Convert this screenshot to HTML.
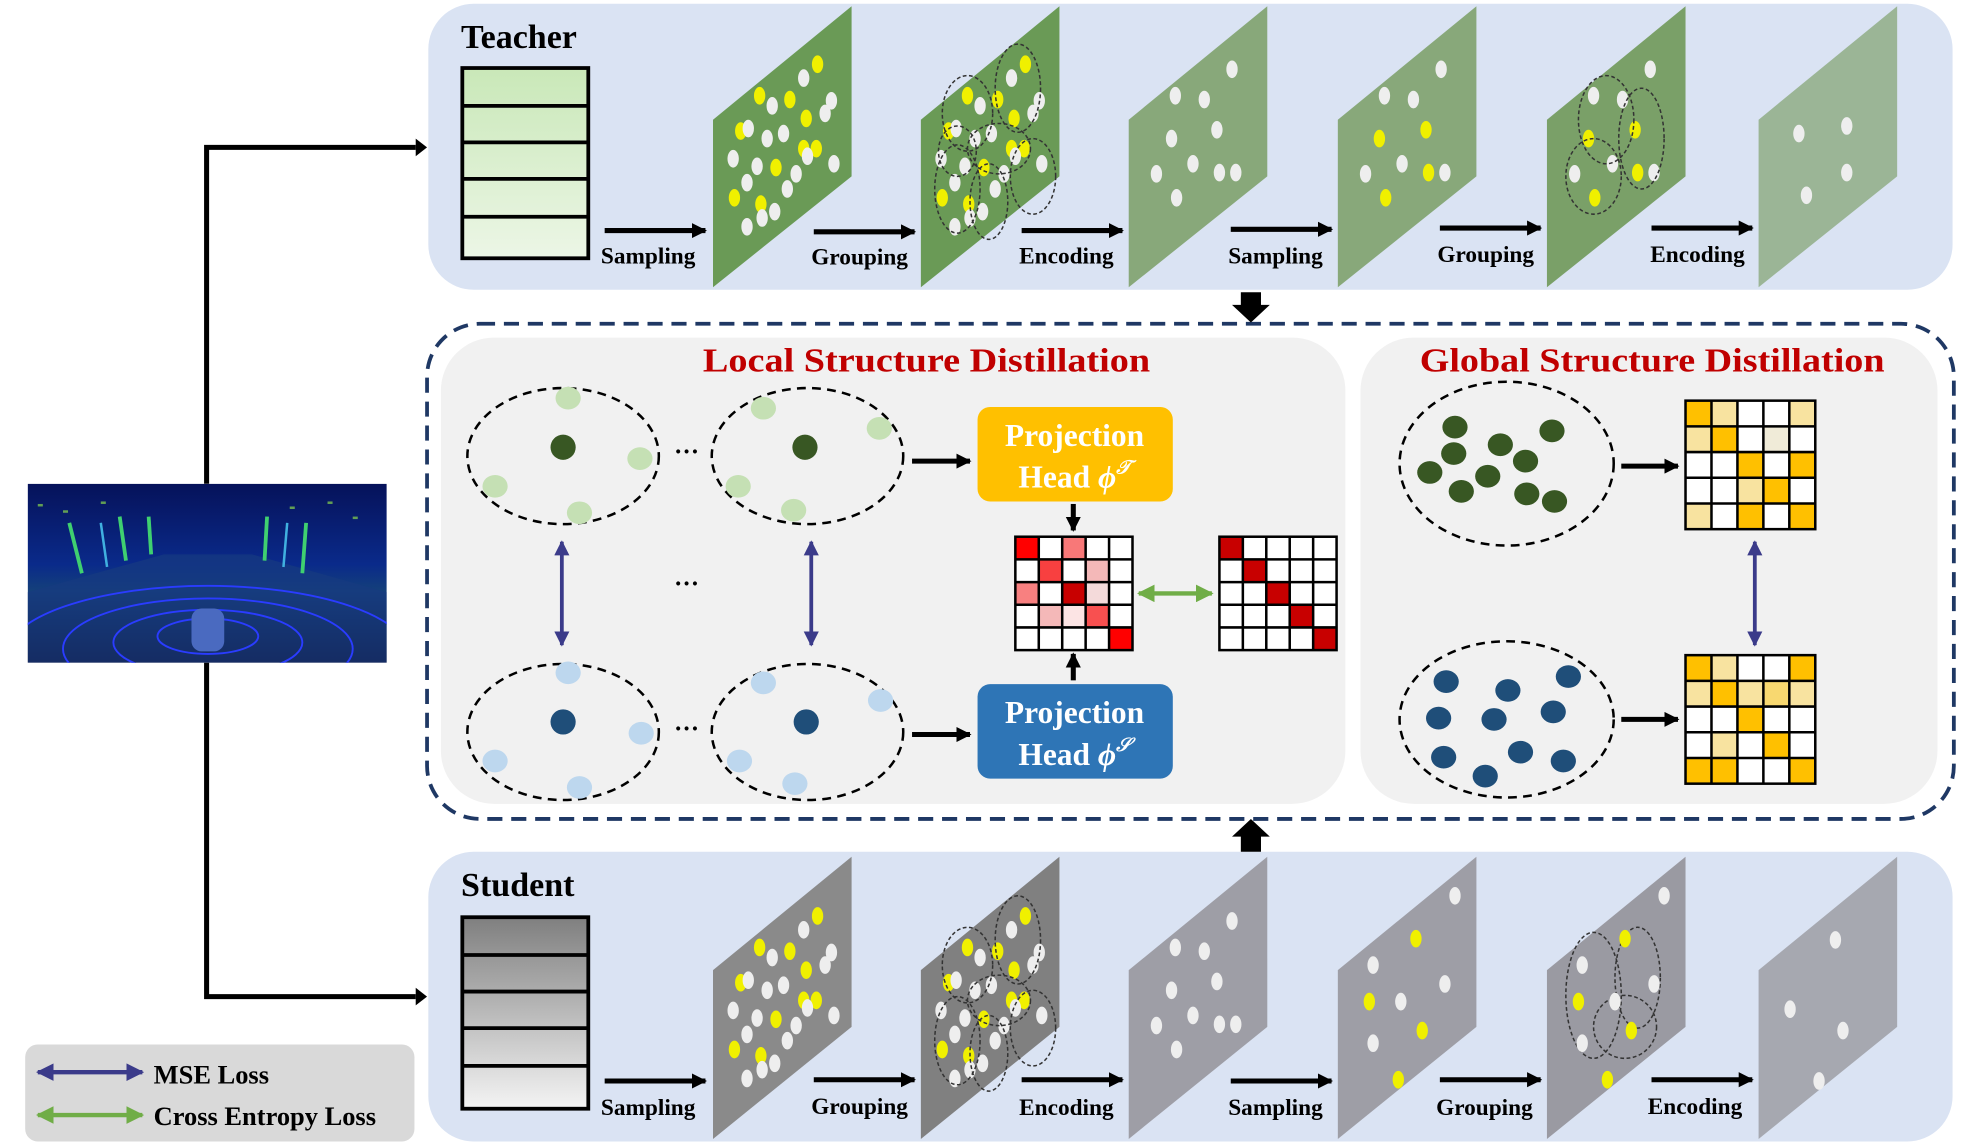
<!DOCTYPE html>
<html><head><meta charset="utf-8"><style>
html,body{margin:0;padding:0;background:#fff;}
svg{display:block;}
text{font-family:"Liberation Serif",serif;font-weight:bold;}
</style></head><body>
<svg width="1974" height="1144" viewBox="0 0 1567 908" preserveAspectRatio="none" xmlns="http://www.w3.org/2000/svg">
<defs>
<marker id="ah" viewBox="0 0 10 10" refX="9" refY="5" markerWidth="3" markerHeight="3" orient="auto-start-reverse"><path d="M0,0L10,5L0,10z" fill="#000"/></marker>
<marker id="ap" viewBox="0 0 10 10" refX="9" refY="5" markerWidth="4" markerHeight="4" orient="auto-start-reverse"><path d="M0,0L10,5L0,10z" fill="#3b3b8a"/></marker>
<marker id="ag" viewBox="0 0 10 10" refX="9" refY="5" markerWidth="4" markerHeight="4" orient="auto-start-reverse"><path d="M0,0L10,5L0,10z" fill="#70ad47"/></marker>
<linearGradient id="gt" x1="0" y1="0" x2="0" y2="1"><stop offset="0" stop-color="#c9e8b8"/><stop offset="1" stop-color="#ecf6e6"/></linearGradient>
<linearGradient id="gs" x1="0" y1="0" x2="0" y2="1"><stop offset="0" stop-color="#7f7f7f"/><stop offset="1" stop-color="#f4f4f4"/></linearGradient>
<linearGradient id="sky" x1="0" y1="0" x2="0" y2="1"><stop offset="0" stop-color="#06125a"/><stop offset="0.45" stop-color="#0a2a8a"/><stop offset="0.6" stop-color="#14407a"/><stop offset="1" stop-color="#120c20"/></linearGradient>
<clipPath id="imgclip"><rect x="22" y="384" width="285" height="142"/></clipPath>
</defs>

<!-- Teacher panel -->
<rect x="340" y="3" width="1210" height="227" rx="36" fill="#dae3f3"/>
<text x="366" y="38" font-size="27">Teacher</text>
<rect x="367" y="54" width="100" height="151" fill="url(#gt)" stroke="#000" stroke-width="3"/>
<g stroke="#000" stroke-width="3"><line x1="367" y1="84" x2="467" y2="84"/><line x1="367" y1="113" x2="467" y2="113"/><line x1="367" y1="142" x2="467" y2="142"/><line x1="367" y1="172" x2="467" y2="172"/></g>

<!-- Student panel -->
<rect x="340" y="676" width="1210" height="230" rx="36" fill="#dae3f3"/>
<text x="366" y="711" font-size="27">Student</text>
<rect x="367" y="728" width="100" height="152" fill="url(#gs)" stroke="#000" stroke-width="3"/>
<g stroke="#000" stroke-width="3"><line x1="367" y1="758" x2="467" y2="758"/><line x1="367" y1="787" x2="467" y2="787"/><line x1="367" y1="816" x2="467" y2="816"/><line x1="367" y1="846" x2="467" y2="846"/></g>

<g>
<polygon points="566,95 676,5 676,140 566,228" fill="#6a9a56"/>
<polygon points="731,95 841,5 841,140 731,228" fill="#6a9a56"/>
<polygon points="896,95 1006,5 1006,140 896,228" fill="#88a87a"/>
<polygon points="1062,95 1172,5 1172,140 1062,228" fill="#88a87a"/>
<polygon points="1228,95 1338,5 1338,140 1228,228" fill="#7aa068"/>
<polygon points="1396,95 1506,5 1506,140 1396,228" fill="#9bb596"/>
</g>
<g>
<polygon points="566,770 676,680 676,815 566,904" fill="#8a8a8a"/>
<polygon points="731,770 841,680 841,815 731,904" fill="#808080"/>
<polygon points="896,770 1006,680 1006,815 896,904" fill="#9e9ea6"/>
<polygon points="1062,770 1172,680 1172,815 1062,904" fill="#9e9ea6"/>
<polygon points="1228,770 1338,680 1338,815 1228,904" fill="#9a9aa2"/>
<polygon points="1396,770 1506,680 1506,815 1396,904" fill="#a6a8b0"/>
</g>

<g id="dotsA">
<g fill="#f0f000">
<ellipse cx="603" cy="76" rx="4.5" ry="7"/><ellipse cx="627" cy="79" rx="4.5" ry="7"/><ellipse cx="649" cy="51" rx="4.5" ry="7"/><ellipse cx="640" cy="94" rx="4.5" ry="7"/>
<ellipse cx="588" cy="104" rx="4.5" ry="7"/><ellipse cx="616" cy="133" rx="4.5" ry="7"/><ellipse cx="648" cy="118" rx="4.5" ry="7"/><ellipse cx="638" cy="118" rx="4.5" ry="7"/>
<ellipse cx="583" cy="157" rx="4.5" ry="7"/><ellipse cx="604" cy="162" rx="4.5" ry="7"/>
</g>
<g fill="#eee">
<ellipse cx="638" cy="62" rx="4.5" ry="7"/><ellipse cx="660" cy="80" rx="4.5" ry="7"/><ellipse cx="613" cy="84" rx="4.5" ry="7"/><ellipse cx="594" cy="102" rx="4.5" ry="7"/>
<ellipse cx="655" cy="90" rx="4.5" ry="7"/><ellipse cx="609" cy="110" rx="4.5" ry="7"/><ellipse cx="622" cy="106" rx="4.5" ry="7"/><ellipse cx="582" cy="126" rx="4.5" ry="7"/>
<ellipse cx="601" cy="132" rx="4.5" ry="7"/><ellipse cx="641" cy="124" rx="4.5" ry="7"/><ellipse cx="662" cy="130" rx="4.5" ry="7"/><ellipse cx="593" cy="145" rx="4.5" ry="7"/>
<ellipse cx="625" cy="150" rx="4.5" ry="7"/><ellipse cx="615" cy="168" rx="4.5" ry="7"/><ellipse cx="593" cy="180" rx="4.5" ry="7"/><ellipse cx="605" cy="173" rx="4.5" ry="7"/><ellipse cx="632" cy="138" rx="4.5" ry="7"/>
</g>
</g>
<use href="#dotsA" x="165" y="0"/>
<g fill="none" stroke="#333" stroke-width="1.2" stroke-dasharray="3,2">
<ellipse cx="768" cy="90" rx="20" ry="30"/><ellipse cx="808" cy="70" rx="18" ry="35"/><ellipse cx="793" cy="118" rx="25" ry="20"/>
<ellipse cx="820" cy="140" rx="18" ry="30"/><ellipse cx="760" cy="150" rx="18" ry="35"/><ellipse cx="785" cy="160" rx="15" ry="30"/><ellipse cx="760" cy="120" rx="15" ry="20"/>
</g>
<use href="#dotsA" x="0" y="676"/>
<use href="#dotsA" x="165" y="676"/>
<g fill="none" stroke="#333" stroke-width="1.2" stroke-dasharray="3,2">
<ellipse cx="768" cy="766" rx="20" ry="30"/><ellipse cx="808" cy="746" rx="18" ry="35"/><ellipse cx="793" cy="794" rx="25" ry="20"/>
<ellipse cx="820" cy="816" rx="18" ry="30"/><ellipse cx="760" cy="826" rx="18" ry="35"/><ellipse cx="785" cy="836" rx="15" ry="30"/>
</g>

<g id="dotsB">
<g fill="#eee">
<ellipse cx="978" cy="55" rx="4.5" ry="7"/><ellipse cx="933" cy="76" rx="4.5" ry="7"/><ellipse cx="956" cy="79" rx="4.5" ry="7"/><ellipse cx="930" cy="110" rx="4.5" ry="7"/>
<ellipse cx="966" cy="103" rx="4.5" ry="7"/><ellipse cx="918" cy="138" rx="4.5" ry="7"/><ellipse cx="947" cy="130" rx="4.5" ry="7"/><ellipse cx="968" cy="137" rx="4.5" ry="7"/>
<ellipse cx="981" cy="137" rx="4.5" ry="7"/><ellipse cx="934" cy="157" rx="4.5" ry="7"/>
</g></g>
<g fill="#eee">
<ellipse cx="1144" cy="55" rx="4.5" ry="7"/><ellipse cx="1099" cy="76" rx="4.5" ry="7"/><ellipse cx="1122" cy="79" rx="4.5" ry="7"/>
<ellipse cx="1084" cy="138" rx="4.5" ry="7"/><ellipse cx="1113" cy="130" rx="4.5" ry="7"/><ellipse cx="1147" cy="137" rx="4.5" ry="7"/>
<ellipse cx="1310" cy="55" rx="4.5" ry="7"/><ellipse cx="1265" cy="76" rx="4.5" ry="7"/><ellipse cx="1288" cy="79" rx="4.5" ry="7"/><ellipse cx="1280" cy="130" rx="4.5" ry="7"/><ellipse cx="1313" cy="137" rx="4.5" ry="7"/><ellipse cx="1250" cy="138" rx="4.5" ry="7"/>
<ellipse cx="1466" cy="100" rx="4.5" ry="7"/><ellipse cx="1428" cy="106" rx="4.5" ry="7"/><ellipse cx="1466" cy="137" rx="4.5" ry="7"/><ellipse cx="1434" cy="155" rx="4.5" ry="7"/>
</g>
<g fill="#f0f000">
<ellipse cx="1095" cy="110" rx="4.5" ry="7"/><ellipse cx="1132" cy="103" rx="4.5" ry="7"/><ellipse cx="1134" cy="137" rx="4.5" ry="7"/><ellipse cx="1100" cy="157" rx="4.5" ry="7"/>
<ellipse cx="1261" cy="110" rx="4.5" ry="7"/><ellipse cx="1298" cy="103" rx="4.5" ry="7"/><ellipse cx="1300" cy="137" rx="4.5" ry="7"/><ellipse cx="1266" cy="157" rx="4.5" ry="7"/>
</g>
<g fill="none" stroke="#333" stroke-width="1.2" stroke-dasharray="3,2">
<ellipse cx="1275" cy="95" rx="22" ry="35"/><ellipse cx="1303" cy="110" rx="18" ry="40"/><ellipse cx="1265" cy="140" rx="22" ry="30"/>
<ellipse cx="1300" cy="776" rx="18" ry="40"/><ellipse cx="1265" cy="790" rx="22" ry="50"/><ellipse cx="1290" cy="815" rx="25" ry="25"/>
</g>
<use href="#dotsB" x="0" y="676"/>
<g fill="#eee">
<ellipse cx="1155" cy="711" rx="4.5" ry="7"/><ellipse cx="1090" cy="766" rx="4.5" ry="7"/><ellipse cx="1147" cy="781" rx="4.5" ry="7"/><ellipse cx="1112" cy="795" rx="4.5" ry="7"/><ellipse cx="1090" cy="828" rx="4.5" ry="7"/>
<ellipse cx="1321" cy="711" rx="4.5" ry="7"/><ellipse cx="1256" cy="766" rx="4.5" ry="7"/><ellipse cx="1313" cy="781" rx="4.5" ry="7"/><ellipse cx="1282" cy="795" rx="4.5" ry="7"/><ellipse cx="1256" cy="828" rx="4.5" ry="7"/>
<ellipse cx="1457" cy="746" rx="4.5" ry="7"/><ellipse cx="1421" cy="801" rx="4.5" ry="7"/><ellipse cx="1463" cy="818" rx="4.5" ry="7"/><ellipse cx="1444" cy="858" rx="4.5" ry="7"/>
</g>
<g fill="#f0f000">
<ellipse cx="1124" cy="745" rx="4.5" ry="7"/><ellipse cx="1087" cy="795" rx="4.5" ry="7"/><ellipse cx="1129" cy="818" rx="4.5" ry="7"/><ellipse cx="1110" cy="857" rx="4.5" ry="7"/>
<ellipse cx="1290" cy="745" rx="4.5" ry="7"/><ellipse cx="1253" cy="795" rx="4.5" ry="7"/><ellipse cx="1295" cy="818" rx="4.5" ry="7"/><ellipse cx="1276" cy="857" rx="4.5" ry="7"/>
</g>

<g stroke="#000" stroke-width="4" marker-end="url(#ah)">
<line x1="480" y1="183" x2="560" y2="183"/><line x1="646" y1="184" x2="726" y2="184"/><line x1="811" y1="183" x2="891" y2="183"/>
<line x1="977" y1="182" x2="1057" y2="182"/><line x1="1143" y1="181" x2="1223" y2="181"/><line x1="1311" y1="181" x2="1391" y2="181"/>
<line x1="480" y1="858" x2="560" y2="858"/><line x1="646" y1="857" x2="726" y2="857"/><line x1="811" y1="857" x2="891" y2="857"/>
<line x1="977" y1="858" x2="1057" y2="858"/><line x1="1143" y1="857" x2="1223" y2="857"/><line x1="1311" y1="857" x2="1391" y2="857"/>
</g>
<g font-size="18.5">
<text x="477" y="209">Sampling</text><text x="644" y="210">Grouping</text><text x="809" y="209">Encoding</text>
<text x="975" y="209">Sampling</text><text x="1141" y="208">Grouping</text><text x="1310" y="208">Encoding</text>
<text x="477" y="885">Sampling</text><text x="644" y="884">Grouping</text><text x="809" y="885">Encoding</text>
<text x="975" y="885">Sampling</text><text x="1140" y="885">Grouping</text><text x="1308" y="884">Encoding</text>
</g>

<!-- lidar image -->
<g clip-path="url(#imgclip)">
<rect x="22" y="384" width="285" height="142" fill="url(#sky)"/>
<path d="M22,470 L130,440 L200,440 L307,470 L307,526 L22,526z" fill="#173a80" opacity="0.7"/>
<g fill="none" stroke="#2a3cff" stroke-width="1.5">
<ellipse cx="165" cy="505" rx="40" ry="14"/><ellipse cx="165" cy="510" rx="75" ry="26"/><ellipse cx="165" cy="515" rx="115" ry="40"/><ellipse cx="165" cy="520" rx="160" ry="55"/>
</g>
<g stroke="#3fd070" stroke-width="3">
<line x1="65" y1="455" x2="55" y2="415"/><line x1="100" y1="445" x2="95" y2="410"/><line x1="120" y1="440" x2="118" y2="410"/><line x1="210" y1="445" x2="212" y2="410"/><line x1="240" y1="455" x2="243" y2="415"/>
</g>
<g stroke="#40b0e0" stroke-width="2"><line x1="85" y1="450" x2="80" y2="415"/><line x1="225" y1="450" x2="228" y2="415"/></g>
<g fill="#7ac050" opacity="0.8"><rect x="30" y="400" width="4" height="2"/><rect x="50" y="405" width="4" height="2"/><rect x="80" y="398" width="4" height="2"/><rect x="230" y="402" width="4" height="2"/><rect x="260" y="398" width="4" height="2"/><rect x="280" y="410" width="4" height="2"/></g>
<rect x="152" y="483" width="26" height="34" rx="8" fill="#4a6ac0"/>
</g>

<g stroke="#000" stroke-width="4" fill="none">
<polyline points="164,384 164,117 330,117"/>
<polyline points="164,526 164,791 330,791"/>
</g>
<path d="M330,110 L339,117 L330,124z" fill="#000"/><path d="M330,784 L339,791 L330,798z" fill="#000"/>

<rect x="339" y="257" width="1212" height="393" rx="42" fill="none" stroke="#1f3864" stroke-width="3" stroke-dasharray="12,7"/>
<path d="M985,232 h16 v10 h7 l-15,14 l-15,-14 h7z" fill="#000"/>
<path d="M985,676 h16 v-12 h7 l-15,-14 l-15,14 h7z" fill="#000"/>
<rect x="350" y="268" width="718" height="370" rx="42" fill="#f1f1f1"/>
<rect x="1080" y="268" width="458" height="370" rx="42" fill="#f1f1f1"/>
<text x="558" y="295" font-size="27" fill="#c00000" textLength="355" lengthAdjust="spacingAndGlyphs">Local Structure Distillation</text>
<text x="1127" y="295" font-size="27" fill="#c00000" textLength="369" lengthAdjust="spacingAndGlyphs">Global Structure Distillation</text>

<g fill="none" stroke="#000" stroke-width="2" stroke-dasharray="7,5">
<ellipse cx="447" cy="362" rx="76" ry="54"/><ellipse cx="641" cy="362" rx="76" ry="54"/>
<ellipse cx="447" cy="581" rx="76" ry="54"/><ellipse cx="641" cy="581" rx="76" ry="54"/>
<ellipse cx="1196" cy="368" rx="85" ry="65"/><ellipse cx="1196" cy="571" rx="85" ry="62"/>
</g>
<g fill="#c5e0b4">
<ellipse cx="451" cy="316" rx="10" ry="9"/><ellipse cx="393" cy="386" rx="10" ry="9"/><ellipse cx="508" cy="364" rx="10" ry="9"/><ellipse cx="460" cy="407" rx="10" ry="9"/>
<ellipse cx="606" cy="324" rx="10" ry="9"/><ellipse cx="698" cy="340" rx="10" ry="9"/><ellipse cx="586" cy="386" rx="10" ry="9"/><ellipse cx="630" cy="405" rx="10" ry="9"/>
</g>
<g fill="#385723"><ellipse cx="447" cy="355" rx="10" ry="10"/><ellipse cx="639" cy="355" rx="10" ry="10"/></g>
<g fill="#bdd7ee">
<ellipse cx="451" cy="534" rx="10" ry="9"/><ellipse cx="393" cy="604" rx="10" ry="9"/><ellipse cx="509" cy="582" rx="10" ry="9"/><ellipse cx="460" cy="625" rx="10" ry="9"/>
<ellipse cx="606" cy="542" rx="10" ry="9"/><ellipse cx="699" cy="556" rx="10" ry="9"/><ellipse cx="587" cy="604" rx="10" ry="9"/><ellipse cx="631" cy="622" rx="10" ry="9"/>
</g>
<g fill="#1f4e79"><ellipse cx="447" cy="573" rx="10" ry="10"/><ellipse cx="640" cy="573" rx="10" ry="10"/></g>
<g font-size="20" text-anchor="middle"><text x="545" y="365">···</text><text x="545" y="470">···</text><text x="545" y="585">···</text></g>

<g stroke="#3b3b8a" stroke-width="3" marker-start="url(#ap)" marker-end="url(#ap)">
<line x1="446" y1="430" x2="446" y2="512"/><line x1="644" y1="430" x2="644" y2="512"/><line x1="1393" y1="430" x2="1393" y2="512"/>
</g>
<g stroke="#000" stroke-width="4" marker-end="url(#ah)">
<line x1="724" y1="366" x2="770" y2="366"/><line x1="724" y1="583" x2="770" y2="583"/>
<line x1="852" y1="400" x2="852" y2="421"/><line x1="852" y1="540" x2="852" y2="519"/>
<line x1="1287" y1="370" x2="1332" y2="370"/><line x1="1287" y1="571" x2="1332" y2="571"/>
</g>

<rect x="776" y="323" width="155" height="75" rx="10" fill="#ffc000"/>
<rect x="776" y="543" width="155" height="75" rx="10" fill="#2e75b6"/>
<g fill="#fff" font-size="25" text-anchor="middle">
<text x="853" y="354">Projection</text><text x="853" y="387">Head <tspan font-style="italic">ϕ</tspan><tspan font-style="italic" font-size="15" dy="-11">𝒯</tspan></text>
<text x="853" y="574">Projection</text><text x="853" y="607">Head <tspan font-style="italic">ϕ</tspan><tspan font-style="italic" font-size="15" dy="-11">𝒮</tspan></text>
</g>

<g transform="translate(806,426)">
<rect width="93" height="90" fill="#fff"/>
<rect x="0" y="0" width="18.6" height="18" fill="#ff0000"/><rect x="37.2" y="0" width="18.6" height="18" fill="#f87878"/>
<rect x="18.6" y="18" width="18.6" height="18" fill="#f84040"/><rect x="55.8" y="18" width="18.6" height="18" fill="#f4b8b8"/>
<rect x="0" y="36" width="18.6" height="18" fill="#f88080"/><rect x="37.2" y="36" width="18.6" height="18" fill="#c80000"/><rect x="55.8" y="36" width="18.6" height="18" fill="#f4dada"/>
<rect x="18.6" y="54" width="18.6" height="18" fill="#f4b8b8"/><rect x="37.2" y="54" width="18.6" height="18" fill="#fce4e4"/><rect x="55.8" y="54" width="18.6" height="18" fill="#f85050"/>
<rect x="74.4" y="72" width="18.6" height="18" fill="#ff0000"/>
<g stroke="#000" stroke-width="2" fill="none"><rect width="93" height="90"/>
<path d="M18.6,0V90M37.2,0V90M55.8,0V90M74.4,0V90M0,18H93M0,36H93M0,54H93M0,72H93"/></g>
</g>
<g transform="translate(968,426)">
<rect width="93" height="90" fill="#fff"/>
<g fill="#c80000"><rect x="0" y="0" width="18.6" height="18"/><rect x="18.6" y="18" width="18.6" height="18"/><rect x="37.2" y="36" width="18.6" height="18"/><rect x="55.8" y="54" width="18.6" height="18"/><rect x="74.4" y="72" width="18.6" height="18"/></g>
<g stroke="#000" stroke-width="2" fill="none"><rect width="93" height="90"/>
<path d="M18.6,0V90M37.2,0V90M55.8,0V90M74.4,0V90M0,18H93M0,36H93M0,54H93M0,72H93"/></g>
</g>
<line x1="904" y1="471" x2="962" y2="471" stroke="#70ad47" stroke-width="3.5" marker-start="url(#ag)" marker-end="url(#ag)"/>

<g fill="#385723">
<ellipse cx="1155" cy="339" rx="10" ry="9"/><ellipse cx="1232" cy="342" rx="10" ry="9"/><ellipse cx="1191" cy="353" rx="10" ry="9"/><ellipse cx="1154" cy="360" rx="10" ry="9"/>
<ellipse cx="1211" cy="366" rx="10" ry="9"/><ellipse cx="1135" cy="375" rx="10" ry="9"/><ellipse cx="1181" cy="378" rx="10" ry="9"/><ellipse cx="1160" cy="390" rx="10" ry="9"/>
<ellipse cx="1212" cy="392" rx="10" ry="9"/><ellipse cx="1234" cy="398" rx="10" ry="9"/>
</g>
<g fill="#1f4e79">
<ellipse cx="1148" cy="541" rx="10" ry="9"/><ellipse cx="1245" cy="537" rx="10" ry="9"/><ellipse cx="1197" cy="548" rx="10" ry="9"/><ellipse cx="1142" cy="570" rx="10" ry="9"/>
<ellipse cx="1186" cy="571" rx="10" ry="9"/><ellipse cx="1233" cy="565" rx="10" ry="9"/><ellipse cx="1146" cy="601" rx="10" ry="9"/><ellipse cx="1207" cy="597" rx="10" ry="9"/>
<ellipse cx="1241" cy="604" rx="10" ry="9"/><ellipse cx="1179" cy="616" rx="10" ry="9"/>
</g>

<g transform="translate(1338,318)">
<rect width="103" height="102" fill="#fff"/>
<g fill="#ffc000"><rect x="0" y="0" width="20.6" height="20.4"/><rect x="20.6" y="20.4" width="20.6" height="20.4"/><rect x="41.2" y="40.8" width="20.6" height="20.4"/><rect x="82.4" y="40.8" width="20.6" height="20.4"/><rect x="61.8" y="61.2" width="20.6" height="20.4"/><rect x="41.2" y="81.6" width="20.6" height="20.4"/><rect x="82.4" y="81.6" width="20.6" height="20.4"/></g>
<g fill="#f8e3a0"><rect x="20.6" y="0" width="20.6" height="20.4"/><rect x="82.4" y="0" width="20.6" height="20.4"/><rect x="0" y="20.4" width="20.6" height="20.4"/><rect x="41.2" y="61.2" width="20.6" height="20.4"/><rect x="0" y="81.6" width="20.6" height="20.4"/></g>
<rect x="61.8" y="20.4" width="20.6" height="20.4" fill="#f0ebd8"/>
<g stroke="#000" stroke-width="2" fill="none"><rect width="103" height="102"/>
<path d="M20.6,0V102M41.2,0V102M61.8,0V102M82.4,0V102M0,20.4H103M0,40.8H103M0,61.2H103M0,81.6H103"/></g>
</g>
<g transform="translate(1338,520)">
<rect width="103" height="102" fill="#fff"/>
<g fill="#ffc000"><rect x="0" y="0" width="20.6" height="20.4"/><rect x="82.4" y="0" width="20.6" height="20.4"/><rect x="20.6" y="20.4" width="20.6" height="20.4"/><rect x="41.2" y="40.8" width="20.6" height="20.4"/><rect x="61.8" y="61.2" width="20.6" height="20.4"/><rect x="0" y="81.6" width="20.6" height="20.4"/><rect x="20.6" y="81.6" width="20.6" height="20.4"/><rect x="82.4" y="81.6" width="20.6" height="20.4"/></g>
<g fill="#f8e3a0"><rect x="20.6" y="0" width="20.6" height="20.4"/><rect x="0" y="20.4" width="20.6" height="20.4"/><rect x="41.2" y="20.4" width="20.6" height="20.4"/><rect x="82.4" y="20.4" width="20.6" height="20.4"/><rect x="20.6" y="61.2" width="20.6" height="20.4"/></g>
<rect x="61.8" y="20.4" width="20.6" height="20.4" fill="#f8d870"/>
<g stroke="#000" stroke-width="2" fill="none"><rect width="103" height="102"/>
<path d="M20.6,0V102M41.2,0V102M61.8,0V102M82.4,0V102M0,20.4H103M0,40.8H103M0,61.2H103M0,81.6H103"/></g>
</g>

<rect x="20" y="829" width="309" height="77" rx="10" fill="#d9d9d9"/>
<line x1="30" y1="851" x2="113" y2="851" stroke="#3b3b8a" stroke-width="3.5" marker-start="url(#ap)" marker-end="url(#ap)"/>
<line x1="30" y1="885" x2="113" y2="885" stroke="#70ad47" stroke-width="3.5" marker-start="url(#ag)" marker-end="url(#ag)"/>
<text x="122" y="860" font-size="21">MSE Loss</text>
<text x="122" y="893" font-size="21">Cross Entropy Loss</text>
</svg>
</body></html>
